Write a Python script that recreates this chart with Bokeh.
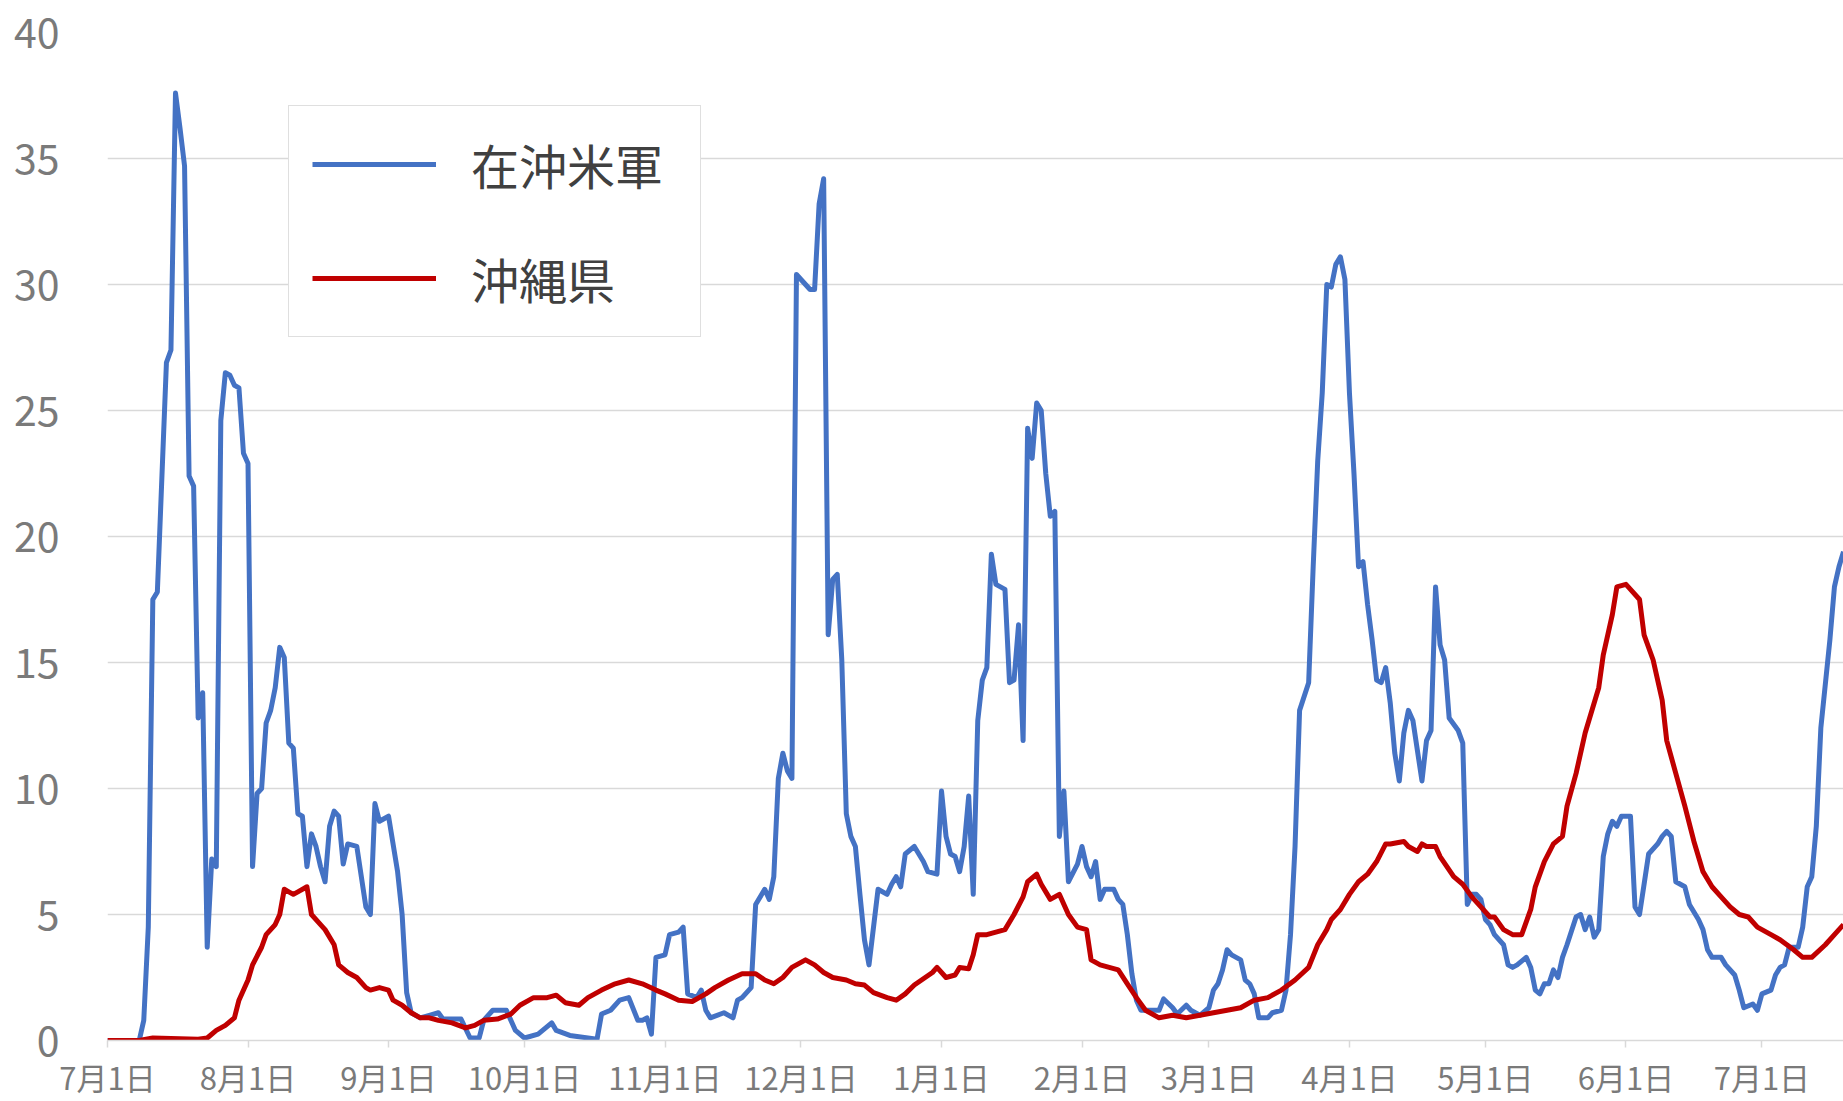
import pandas as pd
from bokeh.plotting import figure
from bokeh.models import (FixedTicker, CustomJSTickFormatter, Legend, LegendItem,
                          Range1d, ColumnDataSource)
from bokeh.embed import file_html
from bokeh.resources import INLINE

# ---------------- data ----------------
START = "2020-07-01"          # day 0 of the series
X_SPAN_DAYS = 383.0           # visible span of the x axis in days

series_names = ["在沖米軍", "沖縄県"]

# (day offset from START, value)
us_military = [
    (0, 0), (7, 0), (8, 0.8), (9, 4.5), (10, 17.5), (11, 17.8), (13, 26.9), (14, 27.4),
    (15, 37.6), (16, 36.2), (17, 34.7), (18, 22.4), (19, 22.0), (20, 12.8), (21, 13.8),
    (22, 3.7), (23, 7.2), (24, 6.9), (25, 24.6), (26, 26.5), (27, 26.4), (28, 26.0),
    (29, 25.9), (30, 23.3), (31, 22.9), (32, 6.9), (33, 9.8), (34, 10.0), (35, 12.6),
    (36, 13.1), (37, 14.0), (38, 15.6), (39, 15.2), (40, 11.8), (41, 11.6), (42, 9.0),
    (43, 8.9), (44, 6.9), (45, 8.2), (46, 7.7), (47, 6.9), (48, 6.3), (49, 8.5), (50, 9.1),
    (51, 8.9), (52, 7.0), (53, 7.8), (55, 7.7), (57, 5.3), (58, 5.0), (59, 9.4), (60, 8.7),
    (62, 8.9), (64, 6.7), (65, 5.0), (66, 1.9), (67, 1.1), (69, 0.9), (71, 1.0), (73, 1.1),
    (74, 0.85), (78, 0.85), (80, 0.1), (82, 0.1), (83, 0.8), (85, 1.2), (88, 1.2), (90, 0.4),
    (92, 0.1), (95, 0.25), (98, 0.7), (99, 0.4), (102, 0.2), (108, 0.05), (109, 1.05),
    (111, 1.2), (113, 1.6), (115, 1.7), (117, 0.8), (118, 0.8), (119, 0.9), (120, 0.25),
    (121, 3.3), (123, 3.4), (124, 4.2), (126, 4.3), (127, 4.5), (128, 1.85), (130, 1.7),
    (131, 2.0), (132, 1.2), (133, 0.9), (136, 1.1), (138, 0.9), (139, 1.6), (140, 1.7),
    (142, 2.1), (143, 5.4), (145, 6.0), (146, 5.6), (147, 6.5), (148, 10.4), (149, 11.4),
    (150, 10.7), (151, 10.4), (152, 30.4), (153, 30.2), (155, 29.8), (156, 29.8),
    (157, 33.2), (158, 34.2), (159, 16.1), (160, 18.3), (161, 18.5), (162, 15.1),
    (163, 9.0), (164, 8.1), (165, 7.7), (166, 5.8), (167, 4.0), (168, 3.0), (169, 4.5),
    (170, 6.0), (172, 5.8), (173, 6.2), (174, 6.5), (175, 6.1), (176, 7.4), (178, 7.7),
    (180, 7.1), (181, 6.7), (183, 6.6), (184, 9.9), (185, 8.1), (186, 7.4), (187, 7.3),
    (188, 6.7), (189, 7.7), (190, 9.7), (191, 5.8), (192, 12.7), (193, 14.3), (194, 14.8),
    (195, 19.3), (196, 18.1), (198, 17.9), (199, 14.2), (200, 14.3), (201, 16.5),
    (202, 11.9), (203, 24.3), (204, 23.1), (205, 25.3), (206, 25.0), (207, 22.5),
    (208, 20.8), (209, 21.0), (210, 8.1), (211, 9.9), (212, 6.3), (214, 7.0), (215, 7.7),
    (216, 6.9), (217, 6.5), (218, 7.1), (219, 5.6), (220, 6.0), (222, 6.0), (223, 5.6),
    (224, 5.4), (225, 4.2), (226, 2.65), (227, 1.6), (228, 1.2), (232, 1.2), (233, 1.65),
    (235, 1.3), (236, 1.05), (238, 1.4), (239, 1.2), (241, 1.0), (243, 1.3), (244, 2.0),
    (245, 2.25), (246, 2.8), (247, 3.6), (248, 3.4), (250, 3.2), (251, 2.4), (252, 2.25),
    (253, 1.85), (254, 0.9), (256, 0.9), (257, 1.1), (259, 1.2), (260, 2.0), (261, 4.2),
    (262, 7.7), (263, 13.1), (265, 14.2), (266, 18.8), (267, 23.0), (268, 25.7),
    (269, 30.0), (270, 29.9), (271, 30.8), (272, 31.1), (273, 30.2), (274, 25.7),
    (275, 22.5), (276, 18.8), (277, 19.0), (278, 17.3), (279, 15.9), (280, 14.3),
    (281, 14.2), (282, 14.8), (283, 13.4), (284, 11.4), (285, 10.3), (286, 12.2),
    (287, 13.1), (288, 12.7), (290, 10.3), (291, 11.9), (292, 12.3), (293, 18.0),
    (294, 15.7), (295, 15.1), (296, 12.8), (298, 12.3), (299, 11.8), (300, 5.4),
    (301, 5.8), (302, 5.8), (303, 5.6), (304, 4.8), (305, 4.6), (306, 4.2), (308, 3.8),
    (309, 3.0), (310, 2.9), (311, 3.0), (313, 3.3), (314, 2.9), (315, 2.0), (316, 1.85),
    (317, 2.25), (318, 2.25), (319, 2.8), (320, 2.5), (321, 3.3), (322, 3.8), (324, 4.9),
    (325, 5.0), (326, 4.4), (327, 4.9), (328, 4.1), (329, 4.4), (330, 7.3), (331, 8.2),
    (332, 8.7), (333, 8.5), (334, 8.9), (336, 8.9), (337, 5.3), (338, 5.0), (339, 6.2),
    (340, 7.4), (342, 7.8), (343, 8.1), (344, 8.3), (345, 8.1), (346, 6.3), (348, 6.1),
    (349, 5.4), (351, 4.8), (352, 4.4), (353, 3.6), (354, 3.3), (356, 3.3), (357, 3.0),
    (359, 2.6), (360, 2.0), (361, 1.3), (363, 1.45), (364, 1.2), (365, 1.85), (367, 2.0),
    (368, 2.6), (369, 2.9), (370, 3.0), (371, 3.7), (373, 3.7), (374, 4.5), (375, 6.1),
    (376, 6.5), (377, 8.5), (378, 12.4), (380, 15.9), (381, 18.0), (382, 18.8), (383, 19.4),
]

okinawa_pref = [
    (0, 0), (7, 0), (10, 0.1), (20, 0.05), (22, 0.1), (24, 0.4), (26, 0.6), (28, 0.9),
    (29, 1.6), (31, 2.4), (32, 3.0), (34, 3.7), (35, 4.2), (37, 4.6), (38, 5.0), (39, 6.0),
    (40, 5.9), (41, 5.8), (42, 5.9), (44, 6.1), (45, 5.0), (47, 4.6), (48, 4.4), (50, 3.8),
    (51, 3.0), (53, 2.7), (55, 2.5), (57, 2.1), (58, 2.0), (60, 2.1), (62, 2.0), (63, 1.6),
    (65, 1.4), (67, 1.1), (69, 0.9), (71, 0.9), (73, 0.8), (76, 0.7), (79, 0.5), (81, 0.6),
    (83, 0.8), (86, 0.85), (89, 1.05), (91, 1.4), (94, 1.7), (97, 1.7), (99, 1.8),
    (101, 1.5), (104, 1.4), (106, 1.7), (109, 2.0), (112, 2.25), (115, 2.4), (118, 2.25),
    (121, 2.0), (123, 1.85), (126, 1.6), (129, 1.55), (132, 1.85), (134, 2.1), (137, 2.4),
    (140, 2.65), (143, 2.65), (145, 2.4), (147, 2.25), (149, 2.5), (151, 2.9), (154, 3.2),
    (156, 3.0), (158, 2.7), (160, 2.5), (163, 2.4), (165, 2.25), (167, 2.2), (169, 1.9),
    (172, 1.7), (174, 1.6), (176, 1.85), (178, 2.2), (180, 2.45), (182, 2.7), (183, 2.9),
    (185, 2.5), (187, 2.6), (188, 2.9), (190, 2.85), (191, 3.4), (192, 4.2), (194, 4.2),
    (196, 4.3), (198, 4.4), (200, 5.0), (202, 5.7), (203, 6.3), (205, 6.6), (206, 6.2),
    (208, 5.6), (210, 5.8), (212, 5.0), (214, 4.5), (216, 4.4), (217, 3.2), (219, 3.0),
    (221, 2.9), (223, 2.8), (225, 2.25), (227, 1.7), (229, 1.2), (232, 0.9), (235, 1.0),
    (238, 0.9), (241, 1.0), (244, 1.1), (247, 1.2), (250, 1.3), (253, 1.6), (256, 1.7),
    (259, 2.0), (262, 2.4), (265, 2.9), (267, 3.8), (269, 4.4), (270, 4.8), (272, 5.2),
    (274, 5.8), (276, 6.3), (278, 6.6), (280, 7.1), (282, 7.8), (283, 7.8), (286, 7.9),
    (287, 7.7), (289, 7.5), (290, 7.8), (291, 7.7), (293, 7.7), (294, 7.3), (297, 6.5),
    (299, 6.2), (301, 5.7), (303, 5.3), (305, 4.9), (306, 4.9), (308, 4.4), (310, 4.2),
    (312, 4.2), (314, 5.2), (315, 6.1), (317, 7.1), (319, 7.8), (321, 8.1), (322, 9.3),
    (324, 10.6), (326, 12.2), (329, 14.0), (330, 15.3), (332, 16.9), (333, 18.0),
    (335, 18.1), (336, 17.9), (338, 17.5), (339, 16.1), (341, 15.1), (343, 13.5),
    (344, 11.9), (346, 10.6), (348, 9.3), (350, 7.9), (352, 6.7), (354, 6.1), (356, 5.7),
    (358, 5.3), (360, 5.0), (362, 4.9), (364, 4.5), (367, 4.2), (369, 4.0), (372, 3.6),
    (374, 3.3), (376, 3.3), (379, 3.8), (381, 4.2), (383, 4.6),
]

month_ticks = ["2020-07-01", "2020-08-01", "2020-09-01", "2020-10-01", "2020-11-01",
               "2020-12-01", "2021-01-01", "2021-02-01", "2021-03-01", "2021-04-01",
               "2021-05-01", "2021-06-01", "2021-07-01"]
y_ticks = [0, 5, 10, 15, 20, 25, 30, 35, 40]

# ---------------- build ----------------
start = pd.Timestamp(START)


def to_source(points):
    days = [d for d, _ in points]
    vals = [v for _, v in points]
    return ColumnDataSource(dict(x=start + pd.to_timedelta(days, unit="D"), y=vals))


FONT = "Noto Sans CJK JP"

p = figure(width=1843, height=1101, x_axis_type="datetime",
           output_backend="svg", toolbar_location=None,
           x_range=Range1d(start, start + pd.Timedelta(days=X_SPAN_DAYS)),
           y_range=Range1d(0, 40),
           min_border_left=107, min_border_right=0, min_border_top=32, min_border_bottom=61)

p.background_fill_color = "white"
p.border_fill_color = "white"
p.outline_line_color = None

# grid
p.xgrid.grid_line_color = None
p.ygrid.ticker = FixedTicker(ticks=y_ticks)
p.ygrid.grid_line_color = "#d9d9d9"
p.ygrid.grid_line_width = 1.5

# y axis
p.yaxis.ticker = FixedTicker(ticks=y_ticks)
p.yaxis.axis_line_color = None
p.yaxis.major_tick_line_color = None
p.yaxis.minor_tick_line_color = None
p.yaxis.major_tick_out = 0
p.yaxis.major_tick_in = 0
p.yaxis.major_label_standoff = 48
p.yaxis.major_label_text_font = FONT
p.yaxis.major_label_text_font_size = "41px"
p.yaxis.major_label_text_color = "#7a7a7a"

# x axis
tick_ms = [pd.Timestamp(t).value / 1e6 for t in month_ticks]
p.xaxis.ticker = FixedTicker(ticks=tick_ms, minor_ticks=[])
p.xaxis.formatter = CustomJSTickFormatter(code="""
    const d = new Date(tick);
    return (d.getUTCMonth() + 1) + "月" + d.getUTCDate() + "日";
""")
p.xaxis.axis_line_color = "#d9d9d9"
p.xaxis.axis_line_width = 1.5
p.xaxis.major_tick_line_color = "#d9d9d9"
p.xaxis.major_tick_line_width = 1.5
p.xaxis.major_tick_out = 7
p.xaxis.major_tick_in = 0
p.xaxis.minor_tick_line_color = None
p.xaxis.major_label_standoff = 6
p.xaxis.major_label_text_font = FONT
p.xaxis.major_label_text_font_size = "31px"
p.xaxis.major_label_text_color = "#7a7a7a"

# lines
r_us = p.line("x", "y", source=to_source(us_military), line_color="#4472C4",
              line_width=5, line_join="round")
r_ok = p.line("x", "y", source=to_source(okinawa_pref), line_color="#C00000",
              line_width=5, line_join="round")

legend = Legend(items=[LegendItem(label=series_names[0], renderers=[r_us]),
                       LegendItem(label=series_names[1], renderers=[r_ok])],
                location=(181, 703))
legend.margin = 0
legend.padding = 23
legend.spacing = 44
legend.glyph_width = 124
legend.glyph_height = 50
legend.label_height = 50
legend.label_width = 206
legend.label_standoff = 35
legend.label_text_font = FONT
legend.label_text_font_size = "48px"
legend.label_text_color = "#404040"
legend.border_line_color = "#bfbfbf"
legend.border_line_width = 1.5
legend.background_fill_color = "white"
legend.background_fill_alpha = 1.0
p.add_layout(legend)

open("out.html", "w").write(file_html(p, INLINE))
